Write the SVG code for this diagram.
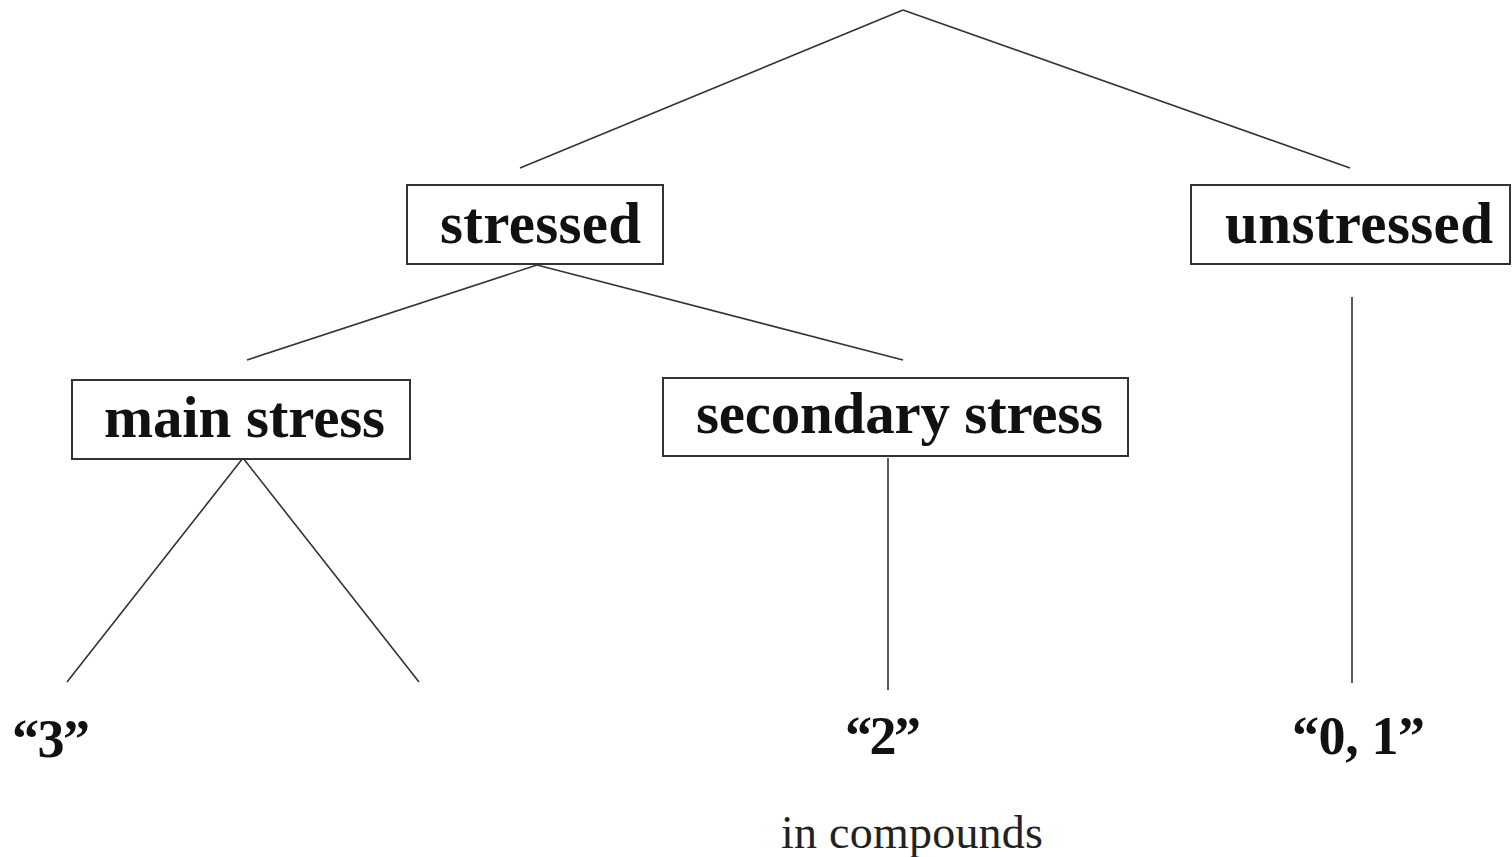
<svg xmlns="http://www.w3.org/2000/svg" width="1512" height="857" viewBox="0 0 1512 857">
<style>
.box{fill:#fff;stroke:#333;stroke-width:2}
.lbl{font-family:"Liberation Serif","DejaVu Serif",serif;font-weight:bold;font-size:59px;fill:#111}
.num{font-family:"Liberation Serif","DejaVu Serif",serif;font-weight:bold;font-size:54px;fill:#111}
.note{font-family:"Liberation Serif","DejaVu Serif",serif;font-size:46px;fill:#222}
.edge{stroke:#333;stroke-width:1.6;fill:none}
</style>
<rect width="1512" height="857" fill="#fff"/>
<g id="connectors">
<line class="edge" x1="903" y1="10" x2="520" y2="168"/>
<line class="edge" x1="903" y1="10" x2="1350" y2="168"/>
<line class="edge" x1="537" y1="265" x2="247" y2="360"/>
<line class="edge" x1="537" y1="265" x2="903" y2="360"/>
<line class="edge" x1="1352" y1="297" x2="1352" y2="683"/>
<line class="edge" x1="243" y1="458" x2="67" y2="682"/>
<line class="edge" x1="243" y1="458" x2="419" y2="682"/>
<line class="edge" x1="888" y1="458" x2="888" y2="690"/>
</g>
<g id="stressed">
<rect class="box" x="407" y="185" width="256" height="79"/>
<text class="lbl" x="440" y="243" textLength="201">stressed</text>
</g>
<g id="unstressed">
<rect class="box" x="1191" y="185" width="319" height="79"/>
<text class="lbl" x="1225" y="243" textLength="268">unstressed</text>
</g>
<g id="main-stress">
<rect class="box" x="72" y="380" width="338" height="79"/>
<text class="lbl" x="104" y="437" textLength="281">main stress</text>
</g>
<g id="secondary-stress">
<rect class="box" x="663" y="378" width="465" height="78"/>
<text class="lbl" x="696" y="433" textLength="407">secondary stress</text>
</g>
<g id="three">
<text class="num" x="12" y="757" textLength="78">“3”</text>
</g>
<g id="two">
<text class="num" x="845" y="754" textLength="76">“2”</text>
</g>
<g id="zero-one">
<text class="num" x="1292" y="754" textLength="133">“0, 1”</text>
</g>
<g id="in-compounds">
<text class="note" x="781" y="848" textLength="262">in compounds</text>
</g>
</svg>
